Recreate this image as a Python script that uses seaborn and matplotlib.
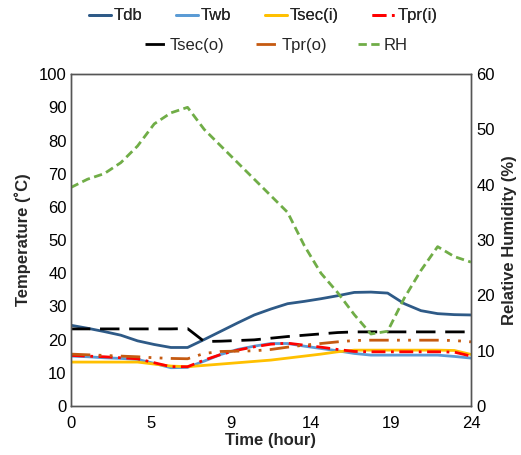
import numpy as np
import pandas as pd
import matplotlib
matplotlib.use("Agg")
import matplotlib.pyplot as plt
import seaborn as sns
from matplotlib.lines import Line2D

hours = list(range(25))
tick_labels = ["0", "5", "9", "14", "19", "24"]

tdb = [24.3, 23.4, 22.4, 21.3, 19.6, 18.5, 17.6, 17.6, 20.0, 22.5, 25.0, 27.4, 29.2,
       30.8, 31.5, 32.3, 33.2, 34.2, 34.3, 34.0, 30.8, 28.7, 27.8, 27.5, 27.4]
twb = [15.0, 14.8, 14.5, 14.3, 14.0, 12.8, 11.5, 11.6, 13.5, 15.5, 17.0, 18.0, 18.8,
       18.8, 18.0, 17.3, 16.6, 15.8, 15.3, 15.3, 15.3, 15.3, 15.3, 14.9, 14.4]
tsec_i = [13.2, 13.2, 13.2, 13.2, 13.2, 12.6, 12.0, 11.8, 12.2, 12.6, 13.0, 13.4, 13.8,
          14.4, 15.0, 15.6, 16.3, 16.8, 16.8, 16.8, 16.8, 16.8, 16.8, 16.7, 15.5]
tpr_i = [15.2, 15.0, 14.8, 14.5, 14.2, 13.0, 11.8, 11.8, 13.8, 15.5, 16.8, 17.8, 18.6,
         18.9, 18.3, 17.7, 17.0, 16.4, 16.3, 16.3, 16.3, 16.3, 16.3, 16.2, 15.0]
tsec_o = [23.2, 23.2, 23.2, 23.2, 23.2, 23.2, 23.2, 23.3, 19.4, 19.5, 19.7, 19.9, 20.4,
          20.9, 21.3, 21.7, 22.1, 22.3, 22.3, 22.3, 22.3, 22.3, 22.3, 22.3, 22.3]
tpr_o = [15.6, 15.4, 15.2, 15.0, 14.8, 14.5, 14.3, 14.2, 15.8, 16.4, 16.5, 16.6, 17.0,
         17.7, 18.3, 18.8, 19.3, 19.7, 19.8, 19.8, 19.8, 19.8, 19.8, 19.7, 19.3]
rh = [39.5, 41.0, 42.0, 44.0, 47.0, 51.0, 53.0, 54.0, 50.0, 47.0, 44.0, 41.0, 38.0,
      35.0, 29.0, 24.0, 20.5, 16.5, 13.0, 13.5, 19.5, 24.5, 28.8, 27.0, 26.0]

temp_series = {"Tdb": tdb, "Twb": twb, "Tsec(i)": tsec_i, "Tpr(i)": tpr_i,
               "Tsec(o)": tsec_o, "Tpr(o)": tpr_o}
colors = {"Tdb": "#2E5A87", "Twb": "#5B9BD5", "Tsec(i)": "#FFC000", "Tpr(i)": "#FF0000",
          "Tsec(o)": "#000000", "Tpr(o)": "#C55A11", "RH": "#70AD47"}
dashes = {"Tdb": "", "Twb": "", "Tsec(i)": "", "Tpr(i)": (5, 2, 1, 2),
          "Tsec(o)": (7, 3.5), "Tpr(o)": (7, 3, 1, 3, 1, 3), "RH": (3, 1.6)}

df = pd.DataFrame([(h, name, v) for name, vals in temp_series.items()
                   for h, v in zip(hours, vals)], columns=["hour", "series", "value"])
df_rh = pd.DataFrame({"hour": hours, "series": "RH", "value": rh})

sns.set_theme(style="white")
plt.rcParams["font.family"] = ["Liberation Sans", "DejaVu Sans"]

fig = plt.figure(figsize=(5.21, 4.55), dpi=100)
ax = fig.add_axes([0.136, 0.108, 0.768, 0.729])
ax2 = ax.twinx()

order = ["Tdb", "Twb", "Tsec(i)", "Tpr(i)", "Tsec(o)", "Tpr(o)"]
sns.lineplot(data=df, x="hour", y="value", hue="series", style="series",
             hue_order=order, style_order=order, palette=colors,
             dashes={k: dashes[k] for k in order}, linewidth=2, ax=ax, legend=False)
sns.lineplot(data=df_rh, x="hour", y="value", color=colors["RH"], linewidth=2,
             dashes=False, ax=ax2, legend=False)
ax2.lines[0].set_dashes(dashes["RH"])

ax.set_xlim(0, 24)
ax.set_ylim(0, 100)
ax2.set_ylim(0, 60)
ax.set_xticks(np.linspace(0, 24, 6))
ax.set_xticklabels(tick_labels)
ax.set_yticks(range(0, 101, 10))
ax2.set_yticks(range(0, 61, 10))
for a in (ax, ax2):
    a.tick_params(labelsize=12, colors="#000000", length=0, pad=3)
    for s in a.spines.values():
        s.set_color("#555555")
        s.set_linewidth(1)
ax.tick_params(axis="x", pad=7)
ax2.tick_params(axis="y", pad=4)
ax.set_xlabel("Time (hour)", fontsize=12, fontweight="bold", labelpad=2)
ax.set_ylabel("Temperature (˚C)", fontsize=12, fontweight="bold", labelpad=6)
ax2.set_ylabel("Relative Humidity (%)", fontsize=12, fontweight="bold", labelpad=5)


def handle(name):
    d = dashes[name]
    h = Line2D([0], [0], color=colors[name], linewidth=2)
    if d:
        h.set_dashes(d)
    return h


leg1 = fig.legend([handle(n) for n in ["Tdb", "Twb", "Tsec(i)", "Tpr(i)"]],
                  ["Tdb", "Twb", "Tsec(i)", "Tpr(i)"], loc="center",
                  bbox_to_anchor=(0.505, 0.965), ncol=4, frameon=False, fontsize=12,
                  handlelength=1.3, handletextpad=0.2, columnspacing=2.0)
leg2 = fig.legend([handle(n) for n in ["Tsec(o)", "Tpr(o)", "RH"]],
                  ["Tsec(o)", "Tpr(o)", "RH"], loc="center",
                  bbox_to_anchor=(0.53, 0.9), ncol=3, frameon=False, fontsize=12,
                  handlelength=1.3, handletextpad=0.2, columnspacing=1.9)
fig.add_artist(leg1)

fig.savefig("out.png", dpi=100)
